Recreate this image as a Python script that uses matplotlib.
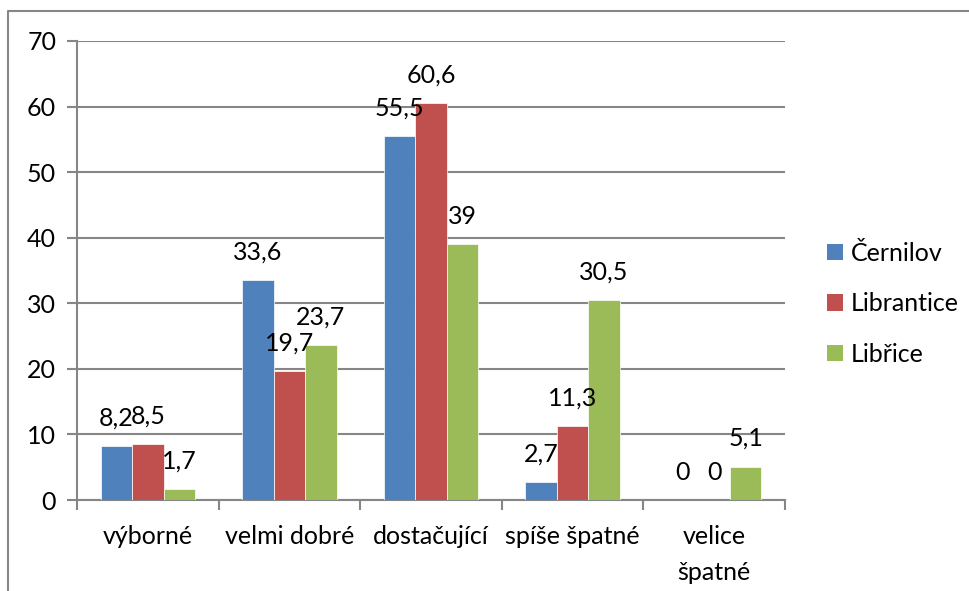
import matplotlib
matplotlib.use("Agg")
import matplotlib.pyplot as plt
from matplotlib.lines import Line2D
from matplotlib.patches import Patch
import numpy as np

categories = ["výborné", "velmi dobré", "dostačující", "spíše špatné", "velice\nšpatné"]
series_names = ["Černilov", "Librantice", "Libřice"]
cernilov = [8.2, 33.6, 55.5, 2.7, 0]
librantice = [8.5, 19.7, 60.6, 11.3, 0]
libirice = [1.7, 23.7, 39, 30.5, 5.1]
colors = ["#4F81BD", "#C0504D", "#9BBB59"]
y_ticks = [0, 10, 20, 30, 40, 50, 60, 70]

plt.rcParams['font.family'] = ['Lato', 'DejaVu Sans']
FS = 18
GRAY = "#868686"

W, H = 969, 591
fig = plt.figure(figsize=(W / 100, H / 100), dpi=100)
ax = fig.add_axes([77 / W, (H - 500) / H, (785 - 77) / W, (500 - 41) / H])

x = np.arange(len(categories))
bw = 0.222
for i, vals in enumerate([cernilov, librantice, libirice]):
    pos = x + (i - 1) * bw
    ax.bar(pos, vals, width=bw, color=colors[i], edgecolor="white", linewidth=0.5, zorder=3)
    for px, v in zip(pos, vals):
        ax.annotate(f"{v:g}".replace(".", ","), (px, v), xytext=(0, 28),
                    textcoords="offset pixels", ha="center", va="center",
                    fontsize=FS, zorder=4)

ax.set_xlim(-0.5, len(categories) - 0.5)
ax.set_ylim(0, 70)
ax.set_yticks(y_ticks)
ax.set_yticklabels([str(t) for t in y_ticks], fontsize=FS)
ax.yaxis.grid(True, color=GRAY, linewidth=1.5, zorder=0)
ax.tick_params(axis="y", length=7, width=1.5, color=GRAY, pad=8)

ax.set_xticks(np.arange(len(categories) + 1) - 0.5)
ax.set_xticklabels([])
ax.set_xticks(x, minor=True)
ax.set_xticklabels(categories, minor=True, fontsize=FS, linespacing=1.7)
ax.tick_params(axis="x", which="major", length=7, width=1.5, color=GRAY)
ax.tick_params(axis="x", which="minor", length=0, pad=18)

for s in ["top", "right"]:
    ax.spines[s].set_visible(False)
for s in ["left", "bottom"]:
    ax.spines[s].set_color(GRAY)
    ax.spines[s].set_linewidth(1.5)

# chart border (left and top edges visible)
fig.add_artist(Line2D([8 / W, 8 / W, 1.0], [0.0, 1 - 11 / H, 1 - 11 / H],
                      transform=fig.transFigure, color=GRAY, linewidth=1.5))

handles = [Patch(facecolor=c, edgecolor="none") for c in colors]
fig.legend(handles, series_names, loc="center left",
           bbox_to_anchor=(827 / W, 1 - 304 / H), frameon=False,
           fontsize=FS, handlelength=0.64, handleheight=0.64,
           handletextpad=0.3, labelspacing=1.1, borderpad=0, borderaxespad=0)

fig.savefig("out.png", dpi=100)
